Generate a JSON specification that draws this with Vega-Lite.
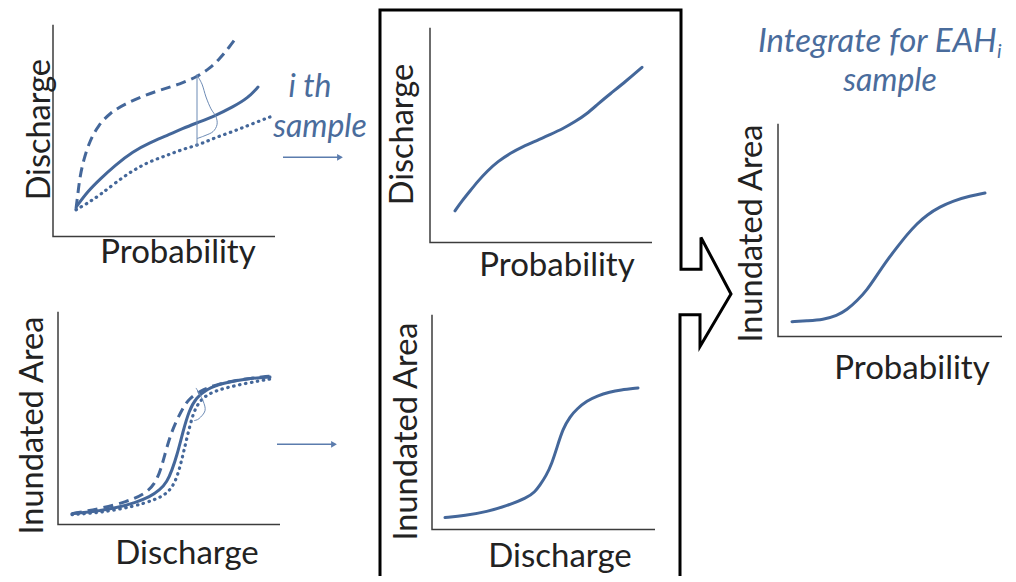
{
"$schema":"https://vega.github.io/schema/vega-lite/v6.json",
"width":1016,"height":582,"padding":0,
"autosize":{"type":"fit","contains":"padding"},
"background":"white",
"config":{"view":{"stroke":null}},
"datasets":{
"paths":[
{"id":"a1","g":"axis","o":0,"x":53,"y":25},{"id":"a1","g":"axis","o":1,"x":53,"y":239},{"id":"a1","g":"axis","o":2,"x":275,"y":239},
{"id":"a2","g":"axis","o":0,"x":58,"y":315},{"id":"a2","g":"axis","o":1,"x":58,"y":530},{"id":"a2","g":"axis","o":2,"x":280,"y":530},
{"id":"a3","g":"axis","o":0,"x":430,"y":28},{"id":"a3","g":"axis","o":1,"x":430,"y":245},{"id":"a3","g":"axis","o":2,"x":652,"y":245},
{"id":"a4","g":"axis","o":0,"x":432,"y":318},{"id":"a4","g":"axis","o":1,"x":432,"y":535},{"id":"a4","g":"axis","o":2,"x":655,"y":535},
{"id":"a5","g":"axis","o":0,"x":778,"y":125},{"id":"a5","g":"axis","o":1,"x":778,"y":340},{"id":"a5","g":"axis","o":2,"x":1002,"y":340},
{"id":"b","g":"box","o":0,"x":380,"y":582},{"id":"b","g":"box","o":1,"x":380,"y":10},{"id":"b","g":"box","o":2,"x":681,"y":10},{"id":"b","g":"box","o":3,"x":681,"y":272},{"id":"b","g":"box","o":4,"x":701,"y":272},{"id":"b","g":"box","o":5,"x":701,"y":240},{"id":"b","g":"box","o":6,"x":731,"y":297},{"id":"b","g":"box","o":7,"x":700,"y":350},{"id":"b","g":"box","o":8,"x":700,"y":318},{"id":"b","g":"box","o":9,"x":680,"y":318},{"id":"b","g":"box","o":10,"x":680,"y":582},
{"id":"m1","g":"median","o":0,"x":77,"y":208},{"id":"m1","g":"median","o":1,"x":88,"y":193},{"id":"m1","g":"median","o":2,"x":100,"y":181},{"id":"m1","g":"median","o":3,"x":115,"y":167},{"id":"m1","g":"median","o":4,"x":133,"y":153},{"id":"m1","g":"median","o":5,"x":150,"y":144},{"id":"m1","g":"median","o":6,"x":167,"y":137},{"id":"m1","g":"median","o":7,"x":182,"y":130},{"id":"m1","g":"median","o":8,"x":200,"y":123},{"id":"m1","g":"median","o":9,"x":215,"y":117},{"id":"m1","g":"median","o":10,"x":233,"y":108},{"id":"m1","g":"median","o":11,"x":248,"y":99},{"id":"m1","g":"median","o":12,"x":258,"y":88},
{"id":"u1","g":"upper","o":0,"x":76,"y":211},{"id":"u1","g":"upper","o":1,"x":78,"y":195},{"id":"u1","g":"upper","o":2,"x":80,"y":178},{"id":"u1","g":"upper","o":3,"x":84,"y":160},{"id":"u1","g":"upper","o":4,"x":90,"y":142},{"id":"u1","g":"upper","o":5,"x":98,"y":127},{"id":"u1","g":"upper","o":6,"x":110,"y":114},{"id":"u1","g":"upper","o":7,"x":125,"y":105},{"id":"u1","g":"upper","o":8,"x":143,"y":97},{"id":"u1","g":"upper","o":9,"x":160,"y":91},{"id":"u1","g":"upper","o":10,"x":180,"y":85},{"id":"u1","g":"upper","o":11,"x":198,"y":77},{"id":"u1","g":"upper","o":12,"x":210,"y":69},{"id":"u1","g":"upper","o":13,"x":220,"y":59},{"id":"u1","g":"upper","o":14,"x":229,"y":48},{"id":"u1","g":"upper","o":15,"x":237,"y":37},
{"id":"l1","g":"lower","o":0,"x":76,"y":212},{"id":"l1","g":"lower","o":1,"x":88,"y":205},{"id":"l1","g":"lower","o":2,"x":100,"y":197},{"id":"l1","g":"lower","o":3,"x":115,"y":185},{"id":"l1","g":"lower","o":4,"x":133,"y":172},{"id":"l1","g":"lower","o":5,"x":150,"y":163},{"id":"l1","g":"lower","o":6,"x":167,"y":157},{"id":"l1","g":"lower","o":7,"x":182,"y":151},{"id":"l1","g":"lower","o":8,"x":200,"y":146},{"id":"l1","g":"lower","o":9,"x":215,"y":139},{"id":"l1","g":"lower","o":10,"x":233,"y":133},{"id":"l1","g":"lower","o":11,"x":250,"y":126},{"id":"l1","g":"lower","o":12,"x":273,"y":117},
{"id":"m2","g":"median","o":0,"x":72,"y":519},{"id":"m2","g":"median","o":1,"x":95,"y":517},{"id":"m2","g":"median","o":2,"x":117,"y":513},{"id":"m2","g":"median","o":3,"x":135,"y":508},{"id":"m2","g":"median","o":4,"x":150,"y":502},{"id":"m2","g":"median","o":5,"x":160,"y":495},{"id":"m2","g":"median","o":6,"x":167,"y":487},{"id":"m2","g":"median","o":7,"x":172,"y":475},{"id":"m2","g":"median","o":8,"x":177,"y":460},{"id":"m2","g":"median","o":9,"x":183,"y":436},{"id":"m2","g":"median","o":10,"x":189,"y":415},{"id":"m2","g":"median","o":11,"x":196,"y":402},{"id":"m2","g":"median","o":12,"x":207,"y":393},{"id":"m2","g":"median","o":13,"x":222,"y":387},{"id":"m2","g":"median","o":14,"x":250,"y":382},{"id":"m2","g":"median","o":15,"x":270,"y":381},
{"id":"u2","g":"upper","o":0,"x":72,"y":519},{"id":"u2","g":"upper","o":1,"x":100,"y":514},{"id":"u2","g":"upper","o":2,"x":127,"y":507},{"id":"u2","g":"upper","o":3,"x":145,"y":499},{"id":"u2","g":"upper","o":4,"x":155,"y":489},{"id":"u2","g":"upper","o":5,"x":161,"y":474},{"id":"u2","g":"upper","o":6,"x":166,"y":455},{"id":"u2","g":"upper","o":7,"x":171,"y":438},{"id":"u2","g":"upper","o":8,"x":177,"y":424},{"id":"u2","g":"upper","o":9,"x":183,"y":412},{"id":"u2","g":"upper","o":10,"x":189,"y":403},{"id":"u2","g":"upper","o":11,"x":200,"y":395},{"id":"u2","g":"upper","o":12,"x":217,"y":388},{"id":"u2","g":"upper","o":13,"x":243,"y":383},{"id":"u2","g":"upper","o":14,"x":270,"y":380},
{"id":"l2","g":"lower","o":0,"x":72,"y":520},{"id":"l2","g":"lower","o":1,"x":100,"y":518},{"id":"l2","g":"lower","o":2,"x":133,"y":512},{"id":"l2","g":"lower","o":3,"x":155,"y":505},{"id":"l2","g":"lower","o":4,"x":167,"y":499},{"id":"l2","g":"lower","o":5,"x":175,"y":488},{"id":"l2","g":"lower","o":6,"x":180,"y":472},{"id":"l2","g":"lower","o":7,"x":184,"y":455},{"id":"l2","g":"lower","o":8,"x":188,"y":438},{"id":"l2","g":"lower","o":9,"x":193,"y":418},{"id":"l2","g":"lower","o":10,"x":198,"y":408},{"id":"l2","g":"lower","o":11,"x":204,"y":401},{"id":"l2","g":"lower","o":12,"x":213,"y":396},{"id":"l2","g":"lower","o":13,"x":225,"y":392},{"id":"l2","g":"lower","o":14,"x":247,"y":387},{"id":"l2","g":"lower","o":15,"x":270,"y":383},
{"id":"m3","g":"median","o":0,"x":455,"y":213},{"id":"m3","g":"median","o":1,"x":462,"y":203},{"id":"m3","g":"median","o":2,"x":470,"y":193},{"id":"m3","g":"median","o":3,"x":478,"y":183},{"id":"m3","g":"median","o":4,"x":487,"y":173},{"id":"m3","g":"median","o":5,"x":498,"y":163},{"id":"m3","g":"median","o":6,"x":510,"y":155},{"id":"m3","g":"median","o":7,"x":523,"y":148},{"id":"m3","g":"median","o":8,"x":537,"y":142},{"id":"m3","g":"median","o":9,"x":550,"y":136},{"id":"m3","g":"median","o":10,"x":563,"y":130},{"id":"m3","g":"median","o":11,"x":575,"y":123},{"id":"m3","g":"median","o":12,"x":587,"y":115},{"id":"m3","g":"median","o":13,"x":598,"y":105},{"id":"m3","g":"median","o":14,"x":610,"y":95},{"id":"m3","g":"median","o":15,"x":626,"y":82},{"id":"m3","g":"median","o":16,"x":642,"y":68},
{"id":"m4","g":"median","o":0,"x":445,"y":523},{"id":"m4","g":"median","o":1,"x":465,"y":521},{"id":"m4","g":"median","o":2,"x":487,"y":517},{"id":"m4","g":"median","o":3,"x":507,"y":511},{"id":"m4","g":"median","o":4,"x":527,"y":503},{"id":"m4","g":"median","o":5,"x":535,"y":497},{"id":"m4","g":"median","o":6,"x":540,"y":490},{"id":"m4","g":"median","o":7,"x":546,"y":481},{"id":"m4","g":"median","o":8,"x":552,"y":468},{"id":"m4","g":"median","o":9,"x":557,"y":452},{"id":"m4","g":"median","o":10,"x":563,"y":433},{"id":"m4","g":"median","o":11,"x":570,"y":421},{"id":"m4","g":"median","o":12,"x":577,"y":413},{"id":"m4","g":"median","o":13,"x":587,"y":405},{"id":"m4","g":"median","o":14,"x":597,"y":400},{"id":"m4","g":"median","o":15,"x":610,"y":396},{"id":"m4","g":"median","o":16,"x":620,"y":394},{"id":"m4","g":"median","o":17,"x":638,"y":392},
{"id":"m5","g":"median","o":0,"x":792,"y":325},{"id":"m5","g":"median","o":1,"x":808,"y":324},{"id":"m5","g":"median","o":2,"x":823,"y":323},{"id":"m5","g":"median","o":3,"x":837,"y":319},{"id":"m5","g":"median","o":4,"x":847,"y":313},{"id":"m5","g":"median","o":5,"x":857,"y":304},{"id":"m5","g":"median","o":6,"x":867,"y":293},{"id":"m5","g":"median","o":7,"x":877,"y":278},{"id":"m5","g":"median","o":8,"x":887,"y":263},{"id":"m5","g":"median","o":9,"x":897,"y":250},{"id":"m5","g":"median","o":10,"x":907,"y":237},{"id":"m5","g":"median","o":11,"x":917,"y":226},{"id":"m5","g":"median","o":12,"x":927,"y":217},{"id":"m5","g":"median","o":13,"x":940,"y":209},{"id":"m5","g":"median","o":14,"x":953,"y":203},{"id":"m5","g":"median","o":15,"x":970,"y":198},{"id":"m5","g":"median","o":16,"x":985,"y":195},
{"id":"p1","g":"pdf","o":0,"x":197,"y":75},{"id":"p1","g":"pdf","o":1,"x":197,"y":148},
{"id":"p2","g":"pdf","o":0,"x":197,"y":76},{"id":"p2","g":"pdf","o":1,"x":202,"y":85},{"id":"p2","g":"pdf","o":2,"x":206,"y":98},{"id":"p2","g":"pdf","o":3,"x":211,"y":110},{"id":"p2","g":"pdf","o":4,"x":216,"y":118},{"id":"p2","g":"pdf","o":5,"x":217,"y":126},{"id":"p2","g":"pdf","o":6,"x":213,"y":133},{"id":"p2","g":"pdf","o":7,"x":205,"y":137},{"id":"p2","g":"pdf","o":8,"x":197,"y":140},
{"id":"p3","g":"pdf","o":0,"x":196,"y":392},{"id":"p3","g":"pdf","o":1,"x":203,"y":405},{"id":"p3","g":"pdf","o":2,"x":205,"y":415},{"id":"p3","g":"pdf","o":3,"x":199,"y":423},{"id":"p3","g":"pdf","o":4,"x":194,"y":425},
{"id":"r1","g":"arrow","o":0,"x":283,"y":159},{"id":"r1","g":"arrow","o":1,"x":338,"y":159},
{"id":"r2","g":"arrow","o":0,"x":277,"y":449},{"id":"r2","g":"arrow","o":1,"x":332,"y":449}
],
"heads":[{"x":340,"y":159},{"x":334,"y":449}],
"labels":[
{"g":"h","text":"Probability","x":178,"y":266},
{"g":"h","text":"Discharge","x":187,"y":570},
{"g":"h","text":"Probability","x":557,"y":279},
{"g":"h","text":"Discharge","x":560,"y":573},
{"g":"h","text":"Probability","x":912,"y":383},
{"g":"v","text":"Discharge","x":50,"y":131},
{"g":"v","text":"Inundated Area","x":43,"y":430},
{"g":"v","text":"Discharge","x":413,"y":136},
{"g":"v","text":"Inundated Area","x":417,"y":436},
{"g":"v","text":"Inundated Area","x":762,"y":236},
{"g":"n","text":"i th","x":310,"y":98},
{"g":"n","text":"sample","x":320,"y":138},
{"g":"n","text":"sample","x":890,"y":92},
{"g":"t","text":"Integrate for EAH","x":758,"y":53},
{"g":"s","text":"i","x":997,"y":59}
]
},
"encoding":{
"x":{"field":"x","type":"quantitative","scale":{"domain":[0,1016],"nice":false,"zero":false},"axis":null},
"y":{"field":"y","type":"quantitative","scale":{"domain":[0,582],"nice":false,"zero":false,"reverse":true},"axis":null}
},
"layer":[
{"data":{"name":"paths"},"transform":[{"filter":"datum.g=='axis'"}],"mark":{"type":"line","color":"#3c3c3c","strokeWidth":1.5},"encoding":{"detail":{"field":"id"},"order":{"field":"o"}}},
{"data":{"name":"paths"},"transform":[{"filter":"datum.g=='box'"}],"mark":{"type":"line","color":"#000000","strokeWidth":3,"strokeJoin":"miter"},"encoding":{"detail":{"field":"id"},"order":{"field":"o"}}},
{"data":{"name":"paths"},"transform":[{"filter":"datum.g=='median'"}],"mark":{"type":"line","color":"#44679a","strokeWidth":3,"interpolate":"basis","strokeCap":"round"},"encoding":{"detail":{"field":"id"},"order":{"field":"o"}}},
{"data":{"name":"paths"},"transform":[{"filter":"datum.g=='upper'"}],"mark":{"type":"line","color":"#44679a","strokeWidth":3,"interpolate":"basis","strokeDash":[10,6]},"encoding":{"detail":{"field":"id"},"order":{"field":"o"}}},
{"data":{"name":"paths"},"transform":[{"filter":"datum.g=='lower'"}],"mark":{"type":"line","color":"#44679a","strokeWidth":3.2,"interpolate":"basis","strokeCap":"round","strokeDash":[0.5,5.5]},"encoding":{"detail":{"field":"id"},"order":{"field":"o"}}},
{"data":{"name":"paths"},"transform":[{"filter":"datum.g=='pdf'"}],"mark":{"type":"line","color":"#6d8bb5","strokeWidth":1,"interpolate":"cardinal"},"encoding":{"detail":{"field":"id"},"order":{"field":"o"}}},
{"data":{"name":"paths"},"transform":[{"filter":"datum.g=='arrow'"}],"mark":{"type":"line","color":"#5b7cad","strokeWidth":1.5},"encoding":{"detail":{"field":"id"},"order":{"field":"o"}}},
{"data":{"name":"heads"},"mark":{"type":"point","shape":"triangle-right","filled":true,"color":"#5b7cad","size":45,"opacity":1}},
{"data":{"name":"labels"},"transform":[{"filter":"datum.g=='h'"}],"mark":{"type":"text","font":"Lato","fontSize":33,"color":"#222222","align":"center","baseline":"alphabetic"},"encoding":{"text":{"field":"text"}}},
{"data":{"name":"labels"},"transform":[{"filter":"datum.g=='v'"}],"mark":{"type":"text","font":"Lato","fontSize":32.5,"color":"#222222","align":"center","baseline":"alphabetic","angle":270},"encoding":{"text":{"field":"text"}}},
{"data":{"name":"labels"},"transform":[{"filter":"datum.g=='n'"}],"mark":{"type":"text","font":"Lato","fontSize":32,"fontStyle":"italic","color":"#4a6c9c","align":"center","baseline":"alphabetic"},"encoding":{"text":{"field":"text"}}},
{"data":{"name":"labels"},"transform":[{"filter":"datum.g=='t'"}],"mark":{"type":"text","font":"Lato","fontSize":33,"fontStyle":"italic","color":"#4a6c9c","align":"left","baseline":"alphabetic"},"encoding":{"text":{"field":"text"}}},
{"data":{"name":"labels"},"transform":[{"filter":"datum.g=='s'"}],"mark":{"type":"text","font":"Lato","fontSize":20,"fontStyle":"italic","color":"#4a6c9c","align":"left","baseline":"alphabetic"},"encoding":{"text":{"field":"text"}}}
]
}
